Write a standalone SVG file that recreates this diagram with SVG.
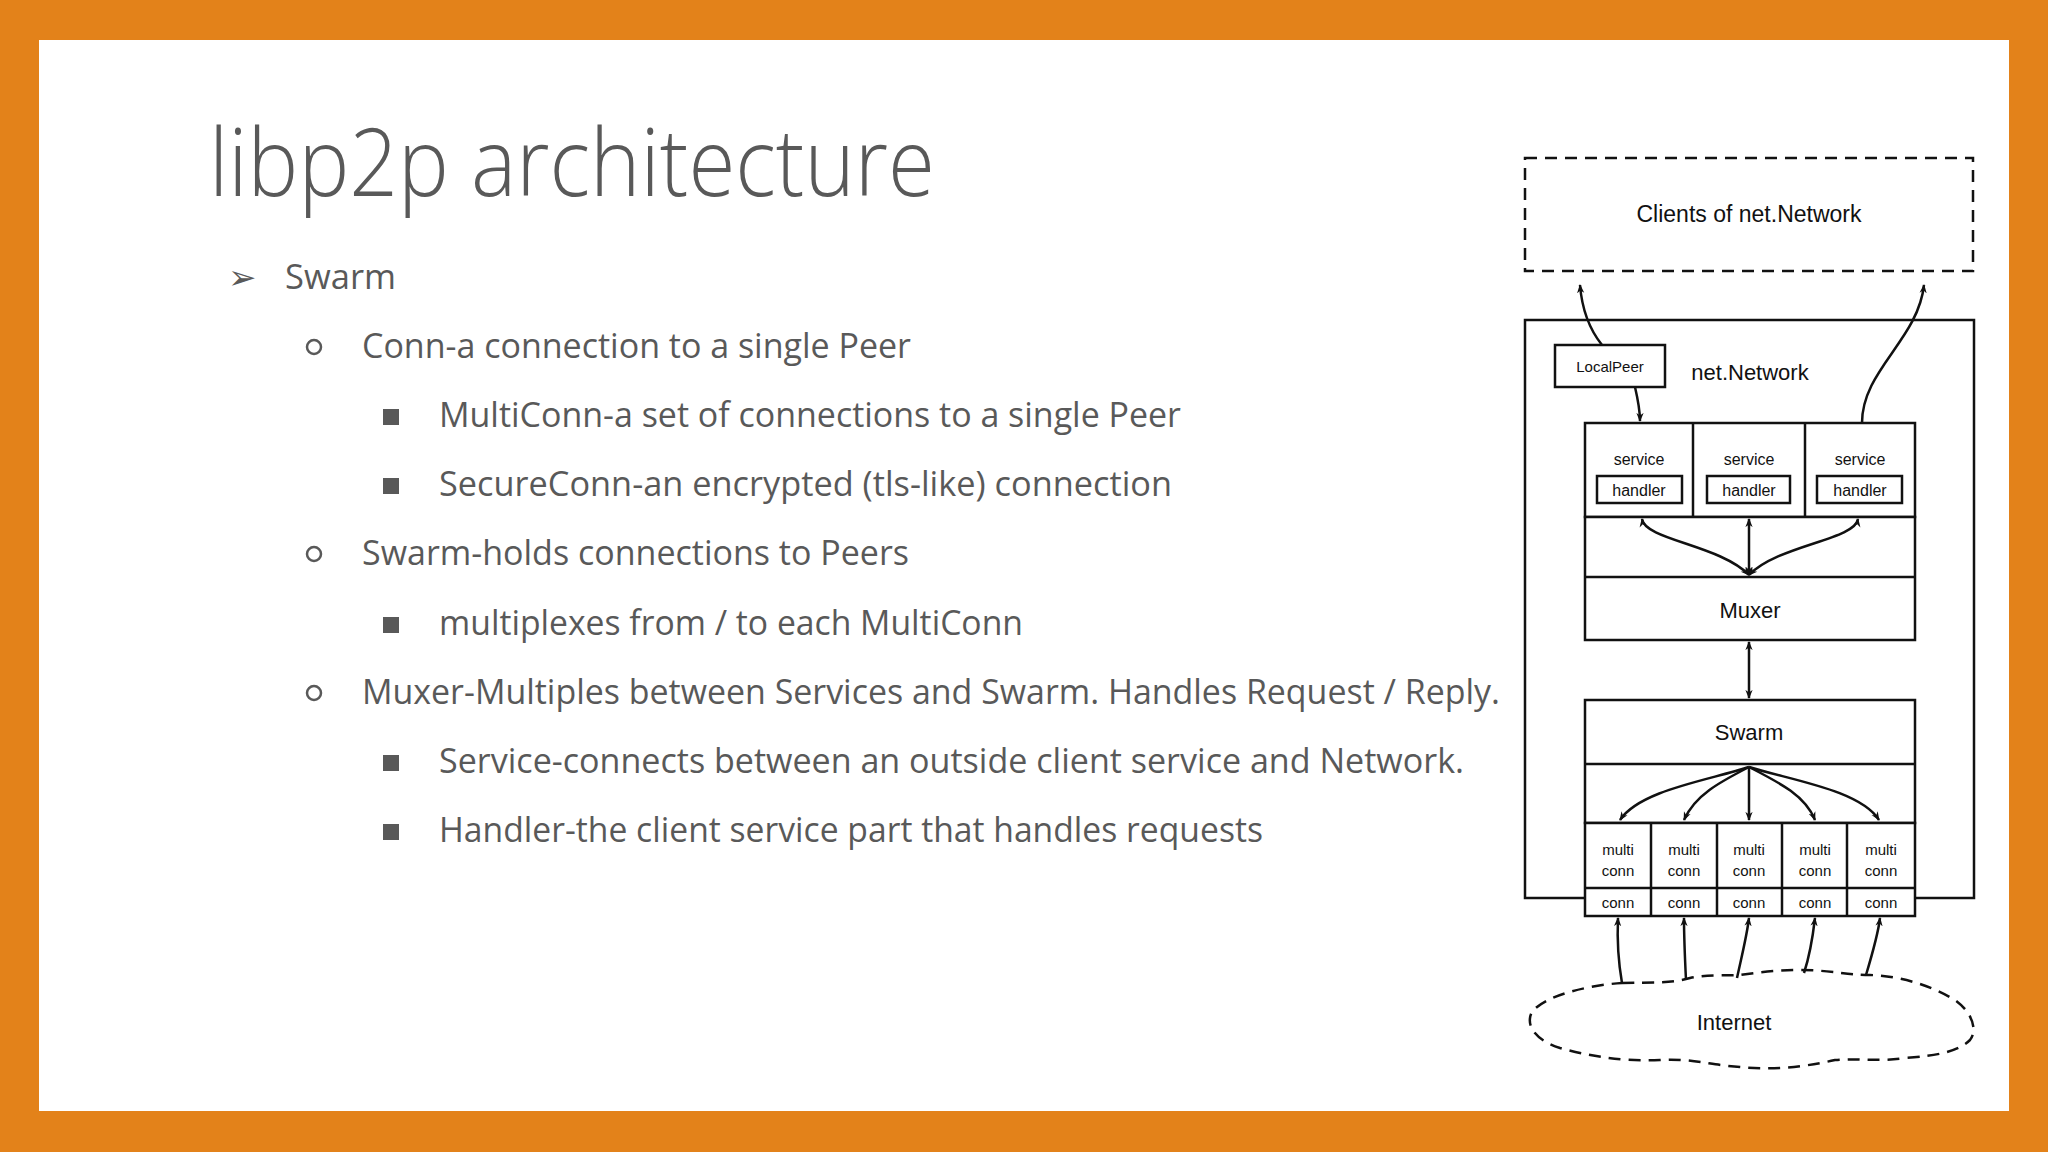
<svg xmlns="http://www.w3.org/2000/svg" width="2048" height="1152" viewBox="0 0 2048 1152">
<defs>
<marker id="ah" viewBox="0 0 10 10" refX="9" refY="5" markerWidth="9" markerHeight="9" orient="auto-start-reverse" markerUnits="userSpaceOnUse">
<path d="M0,1 L10,5 L0,9 L3,5 Z" fill="#111"/>
</marker>
</defs>
<style>
.body{font-family:"Open Sans","Liberation Sans",sans-serif;font-size:34px;fill:#595959}
.d{font-family:"Liberation Sans",Arial,sans-serif;fill:#111;text-anchor:middle}
.box{fill:#fff;stroke:#111;stroke-width:2.5}
.ln{fill:none;stroke:#111;stroke-width:2.5}
.c{fill:none;stroke:#111;stroke-width:2.5;marker-end:url(#ah)}
.cc{fill:none;stroke:#111;stroke-width:2.5;marker-end:url(#ah);marker-start:url(#ah)}
.dash{fill:none;stroke:#111;stroke-width:2.5;stroke-dasharray:12 8}
</style>
<rect width="2048" height="1152" fill="#E3821A"/>
<rect x="39" y="40" width="1970" height="1071" fill="#fff"/>
<g id="text">
<text x="209" y="196" font-family="Open Sans, Liberation Sans, sans-serif" font-size="94" font-weight="300" fill="#595959" textLength="726" lengthAdjust="spacingAndGlyphs">libp2p architecture</text>
<text class="body" x="228" y="289">➢</text>
<text class="body" x="285" y="289" textLength="111" lengthAdjust="spacingAndGlyphs">Swarm</text>
<circle cx="314" cy="347" r="7" fill="none" stroke="#595959" stroke-width="2.5"/>
<text class="body" x="362" y="358" textLength="549" lengthAdjust="spacingAndGlyphs">Conn-a connection to a single Peer</text>
<rect x="383" y="409" width="16" height="16" fill="#595959"/>
<text class="body" x="439" y="427" textLength="742" lengthAdjust="spacingAndGlyphs">MultiConn-a set of connections to a single Peer</text>
<rect x="383" y="478" width="16" height="16" fill="#595959"/>
<text class="body" x="439" y="496" textLength="733" lengthAdjust="spacingAndGlyphs">SecureConn-an encrypted (tls-like) connection</text>
<circle cx="314" cy="554" r="7" fill="none" stroke="#595959" stroke-width="2.5"/>
<text class="body" x="362" y="565" textLength="547" lengthAdjust="spacingAndGlyphs">Swarm-holds connections to Peers</text>
<rect x="383" y="617" width="16" height="16" fill="#595959"/>
<text class="body" x="439" y="635" textLength="584" lengthAdjust="spacingAndGlyphs">multiplexes from / to each MultiConn</text>
<circle cx="314" cy="693" r="7" fill="none" stroke="#595959" stroke-width="2.5"/>
<text class="body" x="362" y="704" textLength="1138" lengthAdjust="spacingAndGlyphs">Muxer-Multiples between Services and Swarm. Handles Request / Reply.</text>
<rect x="383" y="755" width="16" height="16" fill="#595959"/>
<text class="body" x="439" y="773" textLength="1025" lengthAdjust="spacingAndGlyphs">Service-connects between an outside client service and Network.</text>
<rect x="383" y="824" width="16" height="16" fill="#595959"/>
<text class="body" x="439" y="842" textLength="824" lengthAdjust="spacingAndGlyphs">Handler-the client service part that handles requests</text>
</g>
<g id="clients">
<rect x="1525" y="158" width="448" height="113" class="dash"/>
<text class="d" x="1749" y="222" font-size="23">Clients of net.Network</text>
</g>
<g id="network">
<rect x="1525" y="320" width="449" height="578" class="box"/>
<text class="d" x="1750" y="380" font-size="22">net.Network</text>
</g>
<g id="localpeer">
<rect x="1555" y="345" width="110" height="42" class="box"/>
<text class="d" x="1610" y="372" font-size="15">LocalPeer</text>
</g>
<g id="services">
<rect x="1585" y="423" width="330" height="94" class="box"/>
<line x1="1693" y1="423" x2="1693" y2="517" class="ln"/>
<line x1="1805" y1="423" x2="1805" y2="517" class="ln"/>
<text class="d" x="1639" y="465" font-size="16">service</text>
<text class="d" x="1749" y="465" font-size="16">service</text>
<text class="d" x="1860" y="465" font-size="16">service</text>
<rect x="1597" y="476" width="85" height="27" class="box"/>
<rect x="1707" y="476" width="83" height="27" class="box"/>
<rect x="1817" y="476" width="85" height="27" class="box"/>
<text class="d" x="1639" y="496" font-size="16">handler</text>
<text class="d" x="1749" y="496" font-size="16">handler</text>
<text class="d" x="1860" y="496" font-size="16">handler</text>
</g>
<g id="muxer">
<rect x="1585" y="517" width="330" height="123" class="box"/>
<line x1="1585" y1="577" x2="1915" y2="577" class="ln"/>
<text class="d" x="1750" y="618" font-size="22">Muxer</text>
</g>
<g id="swarm">
<rect x="1585" y="700" width="330" height="123" class="box"/>
<line x1="1585" y1="764" x2="1915" y2="764" class="ln"/>
<text class="d" x="1749" y="740" font-size="22">Swarm</text>
</g>
<g id="conns">
<rect x="1585" y="823" width="330" height="93" class="box"/>
<line x1="1585" y1="888" x2="1915" y2="888" class="ln"/>
<line x1="1651" y1="823" x2="1651" y2="916" class="ln"/>
<line x1="1717" y1="823" x2="1717" y2="916" class="ln"/>
<line x1="1782" y1="823" x2="1782" y2="916" class="ln"/>
<line x1="1847" y1="823" x2="1847" y2="916" class="ln"/>
<g font-size="15">
<text class="d" x="1618" y="855">multi</text><text class="d" x="1618" y="876">conn</text><text class="d" x="1618" y="908">conn</text>
<text class="d" x="1684" y="855">multi</text><text class="d" x="1684" y="876">conn</text><text class="d" x="1684" y="908">conn</text>
<text class="d" x="1749" y="855">multi</text><text class="d" x="1749" y="876">conn</text><text class="d" x="1749" y="908">conn</text>
<text class="d" x="1815" y="855">multi</text><text class="d" x="1815" y="876">conn</text><text class="d" x="1815" y="908">conn</text>
<text class="d" x="1881" y="855">multi</text><text class="d" x="1881" y="876">conn</text><text class="d" x="1881" y="908">conn</text>
</g>
</g>
<g id="internet">
<path class="dash" d="M1622,983 C1650,982 1670,984 1690,978 C1710,974 1725,976 1740,975 C1760,972 1780,970 1800,970 C1830,970 1845,975 1870,975 C1900,976 1930,985 1955,1000 C1972,1012 1978,1030 1970,1040 C1958,1052 1935,1056 1905,1058 C1880,1062 1860,1058 1835,1060 C1800,1068 1770,1070 1740,1067 C1710,1065 1690,1058 1660,1060 C1620,1062 1585,1055 1560,1048 C1535,1040 1525,1025 1532,1012 C1545,995 1590,985 1622,983 Z"/>
<text class="d" x="1734" y="1030" font-size="22">Internet</text>
</g>
<g id="connectors">
<path class="c" d="M1602,345 C1590,330 1582,310 1580,285"/>
<path class="c" d="M1862,423 C1862,370 1918,340 1924,285"/>
<path class="c" d="M1635,387 C1638,400 1640,410 1640,421"/>
<path class="cc" d="M1642,519 C1645,540 1720,545 1749,575"/>
<path class="cc" d="M1749,575 L1749,519"/>
<path class="cc" d="M1858,519 C1855,540 1778,545 1749,575"/>
<path class="cc" d="M1749,642 L1749,698"/>
<path class="c" d="M1749,767 C1710,780 1640,790 1620,820"/>
<path class="c" d="M1749,767 C1720,782 1695,795 1684,820"/>
<path class="c" d="M1749,767 L1749,820"/>
<path class="c" d="M1749,767 C1778,782 1805,795 1815,820"/>
<path class="c" d="M1749,767 C1790,780 1860,790 1879,820"/>
<path class="c" d="M1622,983 C1618,960 1617,940 1618,918"/>
<path class="c" d="M1686,980 C1685,960 1684,940 1684,918"/>
<path class="c" d="M1737,978 C1742,955 1747,935 1749,918"/>
<path class="c" d="M1804,973 C1810,955 1813,935 1815,918"/>
<path class="c" d="M1866,975 C1872,955 1878,935 1880,918"/>
</g>
</svg>
